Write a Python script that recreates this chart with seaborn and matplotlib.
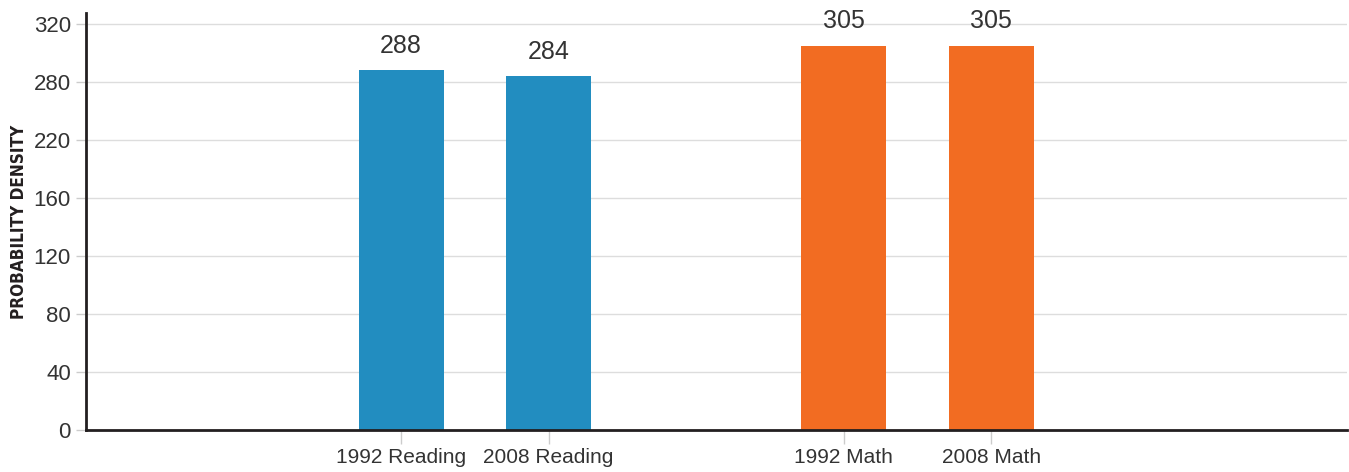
import numpy as np
import pandas as pd
import matplotlib
matplotlib.use("Agg")
import matplotlib.pyplot as plt
import seaborn as sns

# ---- data ----
categories = ["1992 Reading", "2008 Reading", "1992 Math", "2008 Math"]
subjects = ["Reading", "Reading", "Math", "Math"]
scores = [288, 284, 305, 305]
y_ticks = [0, 40, 80, 120, 160, 220, 280, 320]
y_label = "PROBABILITY DENSITY"
colors = {"Reading": "#228DC0", "Math": "#F26C22"}

# slot order with an empty slot between the two groups
order = ["1992 Reading", "2008 Reading", " ", "1992 Math", "2008 Math"]

df = pd.DataFrame({"category": categories, "subject": subjects, "score": scores})

sns.set_theme(style="white")
plt.rcParams["font.family"] = ["Liberation Sans", "DejaVu Sans"]

fig = plt.figure(figsize=(13.49, 4.72), dpi=100)
ax = fig.add_axes([0.0638, 0.089, 0.9347, 0.8835])

# piecewise axis as in the original (tick labels unevenly spaced in value)
src = [0, 160, 220, 280, 320, 1000]
dst = [0, 160, 200, 240, 280, 960]
fwd = lambda v: np.interp(v, src, dst)
inv = lambda v: np.interp(v, dst, src)
ax.set_yscale("function", functions=(fwd, inv))

sns.barplot(data=df, x="category", y="score", hue="subject", order=order,
            palette=colors, dodge=False, width=0.576, saturation=1,
            legend=False, ax=ax, zorder=3, linewidth=0, edgecolor="none")

for cont in ax.containers:
    ax.bar_label(cont, fmt="{:.0f}", padding=9, fontsize=18, color="#333333")

ax.set_ylim(0, 327.5)
ax.set_xlim(-2.135, 6.41)
ax.set_yticks(y_ticks)
ax.set_yticklabels([str(t) for t in y_ticks])
ax.set_xticks([order.index(c) for c in categories])
ax.set_xticklabels(categories)

ax.grid(axis="y", color="#dddddd", linewidth=1, zorder=0)
ax.grid(axis="x", visible=False)
ax.set_axisbelow(True)

for s in ["top", "right"]:
    ax.spines[s].set_visible(False)
for s in ["left", "bottom"]:
    ax.spines[s].set_color("#231f20")
    ax.spines[s].set_linewidth(2)
    ax.spines[s].set_zorder(4)

ax.tick_params(axis="y", length=7, width=1, color="#cccccc", labelsize=16,
               labelcolor="#333333", pad=4, left=True)
ax.tick_params(axis="x", length=10, width=1, color="#cccccc", labelsize=15,
               labelcolor="#333333", pad=3, bottom=True)

ax.set_xlabel("")
ax.set_ylabel(y_label, fontsize=12.3, fontweight="bold", color="#231f20",
              family=["DejaVu Sans"], fontstretch="condensed",
              labelpad=4)

fig.savefig("out.png", dpi=100)
